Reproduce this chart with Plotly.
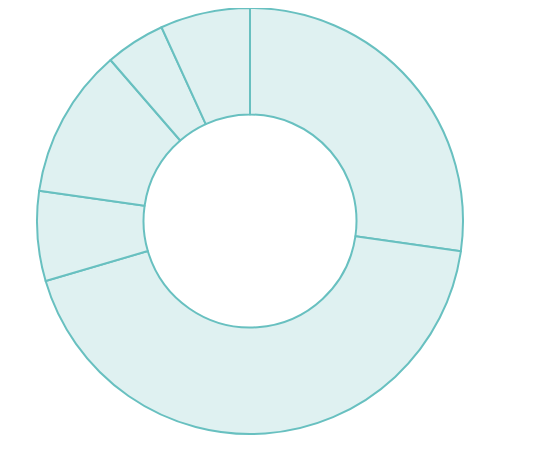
import plotly.graph_objects as go

labels = ["Red", "Blue", "Yellow", "Green", "Purple", "Orange"]
values = [12, 19, 3, 5, 2, 3]

fig = go.Figure(go.Pie(
    labels=labels,
    values=values,
    hole=0.5,
    sort=False,
    direction="clockwise",
    rotation=0,
    textinfo="none",
    marker=dict(colors=["#dff1f1"] * len(values),
                line=dict(color="rgb(104,192,192)", width=2)),
    domain=dict(x=[0, 484 / 548], y=[0, 1]),
    showlegend=False,
))
fig.update_layout(
    width=548, height=452,
    margin=dict(l=0, r=0, t=0, b=26),
    paper_bgcolor="white", plot_bgcolor="white",
)
fig.write_html("out.html")
